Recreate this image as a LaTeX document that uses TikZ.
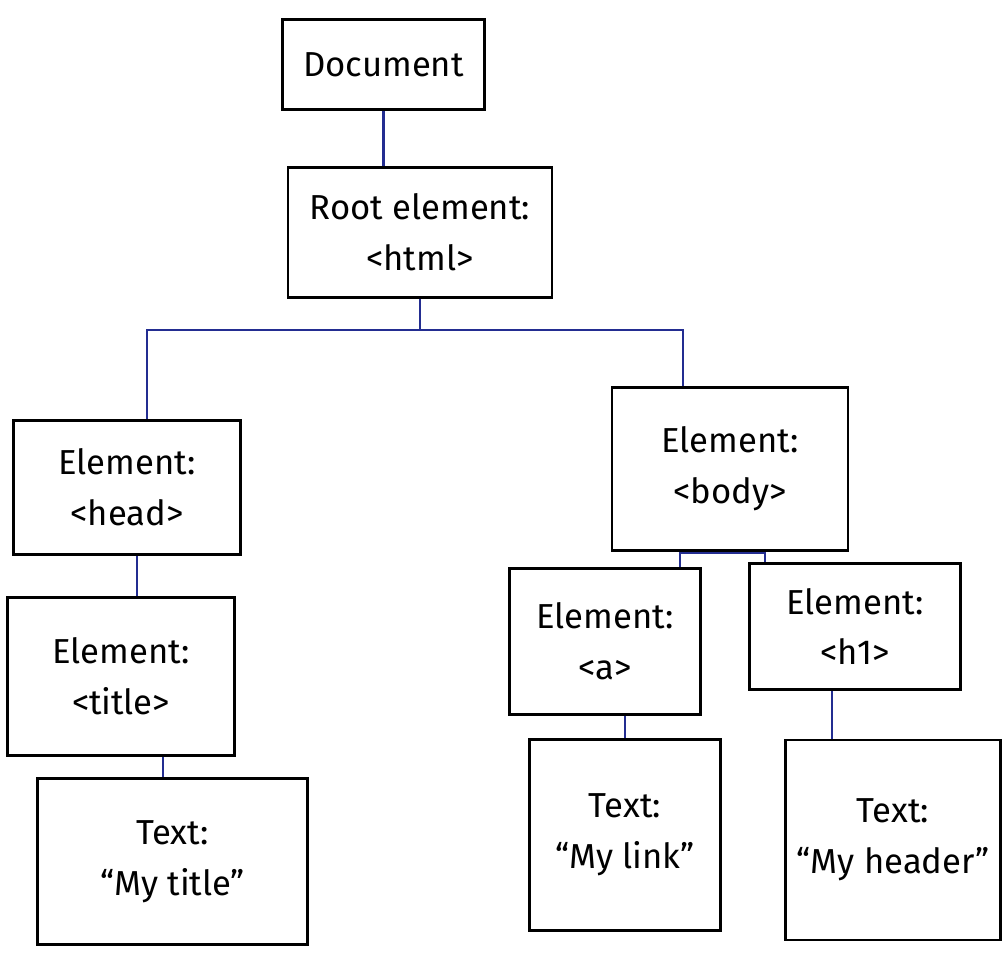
\documentclass[tikz,border=0pt]{standalone}
\usepackage{fontspec}
\setmainfont{Fira Sans}
\begin{document}
\begin{tikzpicture}[x=0.75pt,y=-0.75pt,
  box/.style={draw=black, line width=2.2pt, align=center, inner sep=2pt,
    font=\fontsize{26}{38}\selectfont},
  conn/.style={draw={rgb,255:red,35;green,45;blue,145}, line width=1.6pt}]
\useasboundingbox (0,0) rectangle (1005,955);
\node[box, minimum width=151pt, minimum height=68pt] (doc) at (383.5,64.5) {Document};
\node[box, minimum width=198pt, minimum height=97pt] (root) at (420,232.5) {Root element:\\<html>};
\node[box, minimum width=170pt, minimum height=101pt] (head) at (127,487.5) {Element:\\<head>};
\node[box, minimum width=170pt, minimum height=118pt] (title) at (121,676.5) {Element:\\<title>};
\node[box, minimum width=203pt, minimum height=125pt] (ttitle) at (172.5,861.5) {Text:\\“My title”};
\node[box, minimum width=177pt, minimum height=122pt] (body) at (730,469) {Element:\\<body>};
\node[box, minimum width=143pt, minimum height=110pt] (a) at (605,641.5) {Element:\\<a>};
\node[box, minimum width=158pt, minimum height=95pt] (h1) at (855,626.5) {Element:\\<h1>};
\node[box, minimum width=143pt, minimum height=143pt] (tlink) at (625,835) {Text:\\“My link”};
\node[box, minimum width=161pt, minimum height=150pt] (theader) at (893,840) {Text:\\“My header”};
\coordinate (j) at (420,330);
\coordinate (k) at (765,553);
\draw[conn] (doc.south) -- (doc.south |- root.north);
\draw[conn] (root.south -| j) -- (j);
\draw[conn] (j) -| ([xshift=15pt]head.north);
\draw[conn] (j) -| ([xshift=-35pt]body.north);
\draw[conn] (head.south -| 137,0) -- (title.north -| 137,0);
\draw[conn] (title.south -| 163,0) -- (ttitle.north -| 163,0);
\draw[conn] (body.south -| k) -- (k);
\draw[conn] (k) -| ([xshift=56pt]a.north);
\draw[conn] (k) -- (h1.north -| k);
\draw[conn] (a.south -| 625,0) -- (tlink.north -| 625,0);
\draw[conn] (h1.south -| 832,0) -- (theader.north -| 832,0);
\end{tikzpicture}
\end{document}
